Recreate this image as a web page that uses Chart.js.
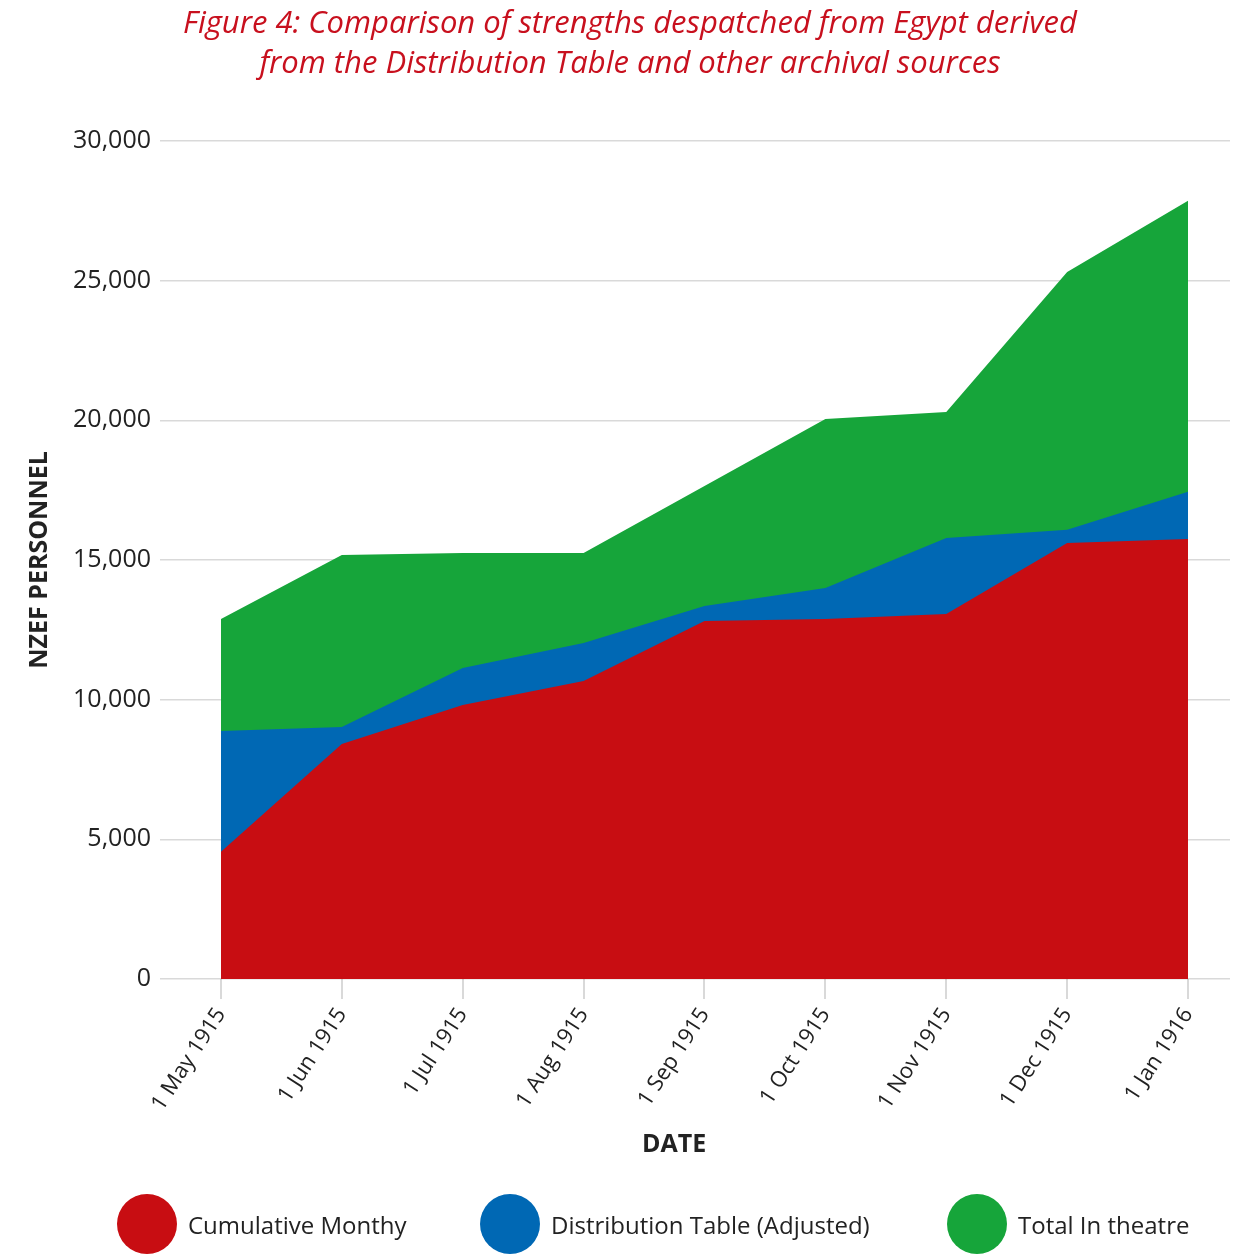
<!DOCTYPE html>
<html>
<head>
<meta charset="utf-8">
<script src="https://cdn.jsdelivr.net/npm/chart.js@4/dist/chart.umd.min.js"></script>
<style>
  html, body { margin: 0; padding: 0; background: #fff; overflow: hidden; }
  #wrap { position: relative; width: 1233px; height: 1254px; }
  canvas { position: absolute; left: 0; top: 0; }
  #title { position: absolute; left: 0; top: 1px; width: 1260px; text-align: center;
    font-family: "Open Sans", sans-serif; font-style: italic; font-size: 31px; line-height: 40px; color: #c8101e; }
  .leg { position: absolute; top: 1194px; height: 60px; display: flex; align-items: center;
    font-family: "Open Sans", sans-serif; font-size: 24px; color: #222; }
  .dot { width: 60px; height: 60px; border-radius: 50%; margin-right: 11px; }
</style>
</head>
<body>
<div id="wrap">
  <canvas id="c" width="1233" height="1254"></canvas>
  <div id="title"></div>
  <div id="legend"></div>
</div>
<script>
const titleLines = ["Figure 4: Comparison of strengths despatched from Egypt derived",
                    "from the Distribution Table and other archival sources"];
const categories = ["1 May 1915", "1 Jun 1915", "1 Jul 1915", "1 Aug 1915", "1 Sep 1915",
                    "1 Oct 1915", "1 Nov 1915", "1 Dec 1915", "1 Jan 1916"];
const cumulativeMonthly = [4550, 8410, 9810, 10670, 12820, 12890, 13070, 15610, 15750];
const distributionTable = [8880, 9020, 11130, 12030, 13350, 14000, 15790, 16080, 17440];
const totalInTheatre = [12890, 15180, 15250, 15250, 17650, 20050, 20300, 25310, 27860];
const seriesNames = ["Cumulative Monthy", "Distribution Table (Adjusted)", "Total In theatre"];
const seriesColors = ["#c80d12", "#0068b4", "#16a53a"];
const yTicks = [0, 5000, 10000, 15000, 20000, 25000, 30000];
const xTitle = "DATE";
const yTitle = "NZEF PERSONNEL";

document.getElementById('title').innerHTML = titleLines.join('<br>');
const legendLeft = [117, 480, 947];
const legendEl = document.getElementById('legend');
seriesNames.forEach((n, i) => {
  const d = document.createElement('div');
  d.className = 'leg';
  d.style.left = legendLeft[i] + 'px';
  d.innerHTML = '<div class="dot" style="background:' + seriesColors[i] + '"></div><span>' + n + '</span>';
  legendEl.appendChild(d);
});

const toXY = arr => arr.map((v, i) => ({x: i, y: v}));
const seriesData = [cumulativeMonthly, distributionTable, totalInTheatre];

const xTitlePlugin = {
  id: 'xTitle',
  afterDraw(chart) {
    const ctx = chart.ctx;
    const xs = chart.scales.x;
    const cx = (chart.chartArea.left + xs.getPixelForValue(categories.length - 1)) / 2;
    ctx.save();
    ctx.font = 'bold 25px "Open Sans"';
    ctx.fillStyle = '#222';
    ctx.textAlign = 'center';
    ctx.textBaseline = 'middle';
    ctx.fillText(xTitle, cx, 1145);
    ctx.restore();
  }
};

new Chart(document.getElementById('c'), {
  type: 'line',
  data: {
    datasets: seriesData.map((arr, i) => ({
      label: seriesNames[i],
      data: toXY(arr),
      backgroundColor: seriesColors[i],
      borderColor: seriesColors[i],
      borderWidth: 0,
      pointRadius: 0,
      fill: 'origin',
      tension: 0
    }))
  },
  options: {
    responsive: false,
    animation: false,
    layout: { padding: { top: 141, left: 0, right: 3, bottom: 0 } },
    plugins: { legend: { display: false }, tooltip: { enabled: false }, title: { display: false } },
    scales: {
      x: {
        type: 'linear',
        min: -0.504,
        max: 8.347,
        afterBuildTicks: s => { s.ticks = categories.map((_, i) => ({value: i})); },
        afterFit: s => { s.height = 275; },
        border: { display: false },
        grid: { display: true, drawOnChartArea: false, drawTicks: true, tickLength: 20, color: '#d9d9d9', lineWidth: 2 },
        ticks: {
          autoSkip: false,
          minRotation: 57, maxRotation: 57,
          padding: 4,
          color: '#222',
          font: { family: '"Open Sans"', size: 22 },
          callback: v => categories[v] ?? ''
        }
      },
      y: {
        min: 0, max: 30000,
        z: 1,
        afterBuildTicks: s => { s.ticks = yTicks.map(v => ({value: v})); },
        afterFit: s => { s.width = 160; },
        border: { display: false },
        grid: { color: 'rgba(0,0,0,0.15)', lineWidth: 1.5, drawTicks: false },
        ticks: {
          padding: 9,
          color: '#222',
          font: { family: '"Open Sans"', size: 25 },
          callback: v => v.toLocaleString('en-US')
        },
        title: {
          display: true, text: yTitle, color: '#222',
          font: { family: '"Open Sans"', size: 25, weight: 'bold' },
          padding: { top: 25, bottom: 0 }
        }
      }
    }
  },
  plugins: [xTitlePlugin]
});
</script>
</body>
</html>
